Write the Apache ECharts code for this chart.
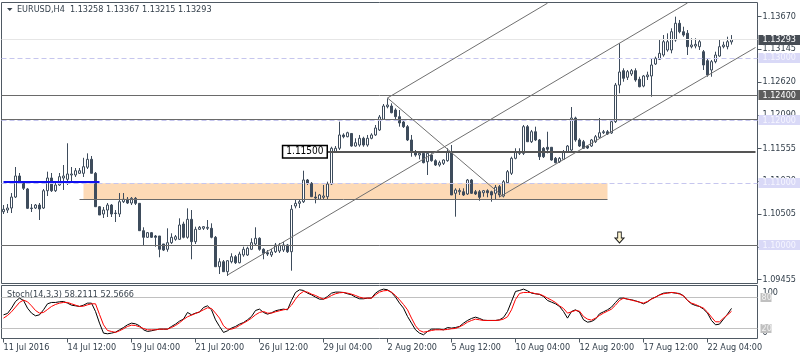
<!DOCTYPE html>
<html><head><meta charset="utf-8">
<script src="https://cdn.jsdelivr.net/npm/echarts/dist/echarts.min.js"></script>
<style>html,body{margin:0;padding:0;background:#fff}#c{width:800px;height:360px}</style>
</head><body><div id="c"></div>
<script>
// ---- data (EURUSD H4) ----
// [open, close, low, high]
const ohlc = [
[1.10538,1.10576,1.10501,1.10645],[1.10565,1.10597,1.10517,1.10661],[1.10597,1.10773,1.10517,1.10837],[1.10773,1.11110,1.10757,1.11254],
[1.11110,1.11014,1.10982,1.11158],[1.11002,1.10913,1.10886,1.11030],[1.10902,1.10592,1.10581,1.10918],[1.10597,1.10589,1.10533,1.10661],
[1.10597,1.10645,1.10581,1.10661],[1.10645,1.10581,1.10405,1.10677],[1.10597,1.10874,1.10581,1.10902],[1.10874,1.11078,1.10789,1.11179],
[1.11078,1.10874,1.10854,1.11158],[1.10874,1.10966,1.10854,1.10998],[1.10966,1.11099,1.10950,1.11158],[1.11078,1.11110,1.10886,1.11286],
[1.11057,1.11142,1.10966,1.11634],[1.11126,1.11142,1.10998,1.11254],[1.11126,1.11195,1.11094,1.11238],[1.11153,1.11195,1.11142,1.11238],
[1.11153,1.11259,1.11094,1.11401],[1.11250,1.11377,1.11222,1.11473],[1.11377,1.11153,1.11153,1.11430],[1.11153,1.10618,1.10613,1.11174],
[1.10618,1.10485,1.10485,1.10629],[1.10501,1.10565,1.10437,1.10613],[1.10565,1.10645,1.10453,1.10677],[1.10645,1.10501,1.10453,1.10661],
[1.10517,1.10509,1.10373,1.10565],[1.10501,1.10698,1.10453,1.10837],[1.10698,1.10737,1.10677,1.10837],[1.10737,1.10677,1.10661,1.10773],
[1.10677,1.10753,1.10645,1.10773],[1.10753,1.10672,1.10645,1.10773],[1.10672,1.10234,1.10229,1.10677],[1.10234,1.10128,1.09989,1.10288],
[1.10128,1.10202,1.10117,1.10213],[1.10202,1.10128,1.10117,1.10213],[1.10149,1.10128,1.09977,1.10165],[1.10149,1.09936,1.09808,1.10149],
[1.10021,1.09924,1.09908,1.10021],[1.09936,1.10042,1.09897,1.10272],[1.10042,1.10128,1.10021,1.10192],[1.10096,1.10138,1.10073,1.10165],
[1.10096,1.10325,1.10085,1.10432],[1.10341,1.10128,1.10112,1.10378],[1.10128,1.10416,1.10106,1.10592],[1.10416,1.10058,1.09776,1.10565],
[1.10058,1.10256,1.10021,1.10298],[1.10256,1.10288,1.10245,1.10309],[1.10272,1.10298,1.10245,1.10309],[1.10272,1.10288,1.10245,1.10405],
[1.10272,1.10128,1.10112,1.10352],[1.10128,1.09657,1.09652,1.10149],[1.09657,1.09737,1.09540,1.09792],[1.09737,1.09577,1.09572,1.09764],
[1.09577,1.09753,1.09508,1.09764],[1.09737,1.09817,1.09711,1.09872],[1.09817,1.09721,1.09700,1.09845],[1.09721,1.09860,1.09711,1.09897],
[1.09845,1.09936,1.09817,1.09977],[1.09845,1.09952,1.09829,1.09977],[1.09936,1.10042,1.09924,1.10112],[1.10021,1.10112,1.09989,1.10288],
[1.10112,1.09936,1.09913,1.10128],[1.09936,1.09872,1.09776,1.09952],[1.09881,1.09860,1.09829,1.09924],[1.09845,1.09893,1.09813,1.09940],
[1.09897,1.10005,1.09877,1.10037],[1.09908,1.09997,1.09877,1.10037],[1.09924,1.10005,1.09893,1.10053],[1.10005,1.09897,1.09877,1.10021],
[1.09897,1.10577,1.09593,1.10645],[1.10629,1.10672,1.10592,1.10737],[1.10672,1.10698,1.10597,1.10725],[1.10698,1.11046,1.10677,1.11195],
[1.11046,1.10993,1.10966,1.11062],[1.10993,1.10778,1.10773,1.11014],[1.10773,1.10757,1.10672,1.10858],[1.10737,1.10806,1.10725,1.10822],
[1.10769,1.10790,1.10741,1.10966],[1.10778,1.10982,1.10737,1.11019],[1.10982,1.11554,1.10966,1.11579],[1.11499,1.11554,1.11478,1.11590],
[1.11554,1.11767,1.11526,1.11980],[1.11767,1.11739,1.11714,1.11794],[1.11739,1.11803,1.11730,1.11819],[1.11791,1.11590,1.11579,1.11794],
[1.11590,1.11643,1.11579,1.11714],[1.11606,1.11714,1.11579,1.11767],[1.11714,1.11606,1.11579,1.11739],[1.11606,1.11714,1.11579,1.11767],
[1.11714,1.11767,1.11698,1.11794],[1.11767,1.11879,1.11751,1.11927],[1.11847,1.12055,1.11831,1.12087],[1.12018,1.12231,1.12007,1.12263],
[1.12220,1.12247,1.12194,1.12354],[1.12231,1.12124,1.12114,1.12274],[1.12167,1.12060,1.12007,1.12194],[1.12060,1.11959,1.11900,1.12167],
[1.11975,1.11900,1.11879,1.12018],[1.11900,1.11687,1.11670,1.11927],[1.11687,1.11499,1.11419,1.11767],[1.11499,1.11446,1.11419,1.11526],
[1.11446,1.11473,1.11377,1.11499],[1.11473,1.11323,1.11313,1.11499],[1.11339,1.11473,1.11126,1.11499],[1.11446,1.11355,1.11339,1.11473],
[1.11355,1.11286,1.11270,1.11377],[1.11286,1.11323,1.11259,1.11355],[1.11313,1.11366,1.11286,1.11377],[1.11355,1.11499,1.11339,1.11554],
[1.11499,1.10806,1.10806,1.11606],[1.10833,1.10886,1.10458,1.10913],[1.10858,1.10878,1.10806,1.10913],[1.10858,1.10806,1.10790,1.10913],
[1.10822,1.11046,1.10806,1.11062],[1.11046,1.10833,1.10822,1.11062],[1.10858,1.10822,1.10806,1.10886],[1.10858,1.10769,1.10714,1.10886],
[1.10842,1.10874,1.10778,1.10886],[1.10874,1.10842,1.10769,1.10897],[1.10858,1.10806,1.10698,1.10874],[1.10833,1.10929,1.10737,1.10966],
[1.10939,1.10806,1.10769,1.10966],[1.10790,1.11019,1.10769,1.11046],[1.11003,1.11179,1.10982,1.11206],[1.11153,1.11393,1.11126,1.11419],
[1.11393,1.11499,1.11377,1.11554],[1.11473,1.11499,1.11446,1.11554],[1.11473,1.11900,1.11446,1.11927],[1.11900,1.11659,1.11655,1.11927],
[1.11659,1.11819,1.11638,1.11847],[1.11819,1.11687,1.11670,1.11900],[1.11687,1.11419,1.11366,1.11703],[1.11554,1.11419,1.11398,1.11574],
[1.11570,1.11538,1.11473,1.11819],[1.11570,1.11366,1.11355,1.11574],[1.11393,1.11323,1.11313,1.11414],[1.11339,1.11393,1.11318,1.11414],
[1.11377,1.11499,1.11366,1.11526],[1.11499,1.11590,1.11478,1.11606],[1.11526,1.12039,1.11499,1.12215],[1.12039,1.11687,1.11659,1.12060],
[1.11687,1.11590,1.11574,1.11714],[1.11659,1.11554,1.11542,1.11687],[1.11590,1.11558,1.11542,1.11606],[1.11590,1.11687,1.11574,1.11703],
[1.11659,1.11739,1.11638,1.11767],[1.11730,1.11803,1.11714,1.12039],[1.11803,1.11819,1.11783,1.11847],[1.11819,1.11783,1.11767,1.11847],
[1.11799,1.11980,1.11783,1.12007],[1.11980,1.12567,1.11959,1.12600],[1.12567,1.12776,1.12435,1.13235],[1.12797,1.12675,1.12620,1.12835],
[1.12691,1.12781,1.12648,1.12808],[1.12744,1.12797,1.12712,1.12824],[1.12797,1.12648,1.12620,1.12835],[1.12659,1.12540,1.12531,1.12700],
[1.12551,1.12712,1.12531,1.12728],[1.12700,1.12728,1.12648,1.12781],[1.12712,1.12888,1.12380,1.13000],[1.12904,1.12995,1.12888,1.13021],
[1.12979,1.13075,1.12968,1.13288],[1.13048,1.13261,1.13021,1.13368],[1.13128,1.13261,1.13101,1.13395],[1.13128,1.13421,1.13075,1.13476],
[1.13288,1.13556,1.13261,1.13662],[1.13556,1.13421,1.13396,1.13609],[1.13421,1.13368,1.13341,1.13501],[1.13396,1.13181,1.13048,1.13448],
[1.13181,1.13208,1.13155,1.13316],[1.13192,1.13219,1.13155,1.13316],[1.13181,1.13261,1.13128,1.13288],[1.13101,1.12888,1.12808,1.13128],
[1.12957,1.12728,1.12700,1.12995],[1.12808,1.12941,1.12700,1.12968],[1.12941,1.13048,1.12915,1.13101],[1.13032,1.13181,1.13021,1.13288],
[1.13181,1.13208,1.13155,1.13261],[1.13181,1.13261,1.13139,1.13341],[1.13258,1.13293,1.13215,1.13367]
];
const stochK = [
45.8,48.4,58.7,71.6,78.1,73.6,58.7,49.1,43.9,45.8,55.5,67.1,69.7,69.7,71,71.6,68.4,64.5,63.2,62,
64.5,68.4,68.4,52.3,29.7,10.4,9.1,10.4,12.3,16.8,21.3,26.5,29.7,28.4,24.6,16.8,13.6,14.9,16.8,18.1,
18.1,18.1,23.3,27.8,33.6,37.5,50.4,45.8,49.1,51,60,63.2,55.5,36.2,23.3,11.7,14.9,20.1,23.3,27.8,
30.9,36.2,42.6,54.2,56.8,50.4,47.1,49.7,53.6,55.5,56.8,55.5,73.6,89,94.2,92.9,87.7,84.5,80,76.1,
76.1,81.3,87.7,89.7,89.7,89,86.5,84.5,80,76.8,76.8,78.1,78.1,87.7,92.9,95.5,94.2,89,80,68.4,
58.7,42.6,29.7,16.8,10.4,7.2,13.6,18.1,18.1,18.1,16.8,21.3,20.1,21.3,23.3,29.7,34.9,38.8,41.3,38.8,
35.5,34.9,34.9,34.9,36.2,40.7,52.3,71.6,91,92.9,95.5,92.2,87.7,86.5,85.2,81.3,73.6,70.3,67.1,62,
52.3,39.4,52.3,55.5,51,36.2,31.6,32.9,37.5,47.8,51.6,55.5,60.7,69.7,78.1,78.1,76.1,74.9,72.9,70.3,
67.1,70.9,76.8,80,84.5,87.7,88.4,89,87.7,87.1,82.6,73.6,67.1,63.8,62,56.8,49.1,34.9,26.5,27.8,
37.5,47.1,58.2111
];
const stochD = [
39.4,44.5,51.6,60.7,69.7,74.2,71,63.2,54.2,49.1,50.4,56.1,62,65.8,68.4,69.7,69.7,67.1,64.5,62,
62.5,65.1,67.1,67.1,46.5,26.5,15.5,13.6,11.7,14.9,18.8,23.3,25.8,25.2,22.6,19.4,16.8,16.8,16.8,18.1,
18.1,18.1,21.3,25.2,30.4,36.8,42,45.2,48.4,51.6,55.5,59.4,58.1,49.1,39.4,24.6,18.1,18.1,20.7,25.2,
29.7,34.2,39.4,45.8,50.4,52.3,49.1,49.1,51.6,53.6,55.5,56.8,64.5,76.1,85.8,90.9,89.7,85.8,83.2,79.4,
76.1,78.7,83.2,86.5,88.4,89,87.7,85.8,83.2,80,78.1,78.1,78.1,84.5,89.7,92.2,92.9,89.7,83.2,74.9,
65.8,55.5,39.4,24.6,15.5,12.3,13.6,15.5,16.8,16.8,16.8,17.5,18.8,19.4,22.6,26.5,31.6,34.9,37.5,36.2,
34.9,34.9,34.9,34.9,35.5,37.5,42,55.5,75.5,87.1,89,89,89,86.5,85.8,82.6,78.1,74.2,69.7,63.2,
58.1,49.1,51.6,54.2,52.9,42.6,37.5,35.5,39.4,44.5,49.1,52.9,56.8,64.5,73.6,78.1,76.1,74.2,72.3,70.3,
68.4,71.6,76.1,80,83.9,86.5,87.7,89,88.4,85.8,82.6,73.6,68.4,65.8,62,58.7,51,41.3,32.3,32.3,
39.4,45.8,52.5666
];
const dateTicks = ['11 Jul 2016','14 Jul 12:00','19 Jul 04:00','21 Jul 20:00','26 Jul 12:00','29 Jul 04:00',
  '2 Aug 20:00','5 Aug 12:00','10 Aug 04:00','12 Aug 20:00','17 Aug 12:00','22 Aug 04:00'];
const priceTicks = [1.13670,1.13145,1.12620,1.12090,1.11555,1.11030,1.10505,1.09980,1.09455];
const priceBoxes = [[1.13000,'lav'],[1.12000,'lav'],[1.11000,'lav'],[1.10000,'lav'],[1.12400,'gray'],[1.13293,'dark']];
const stochTicks = [[100,'100','top'],[0,'0','bottom']];
const stochBoxes = [80,20];
const stochLevels = [80,20];
const lavenderLevels = [1.13000,1.12000,1.11000,1.10000];
const solidLevels = [1.12400,1.12020,1.10000];
const bidLevel = 1.13293;
const labelledLevel = {price:1.11500, from:81, to:188};
const blueLevel = {price:1.11010, from:0, to:24};
const zoneBox = {from:20, to:151, top:1.10993, bottom:1.10737, edgeFrom:19};
const trendLines = [
  [[56,1.09524],[171,1.13881]],
  [[96,1.12360],[136,1.13878]],
  [[96,1.12360],[125,1.10774]],
  [[124,1.10774],[188,1.13168]]
];
const arrowMark = [154,1.10125];
const titleText = 'EURUSD,H4  1.13258 1.13367 1.13215 1.13293';
const stochTitle = 'Stoch(14,3,3) 58.2111 52.5666';

// ---- chart ----
const N = 189;
const cats = Array.from({length:N}, (_, i) => String(i));
const FONT = '"DejaVu Sans Condensed","DejaVu Sans",sans-serif';
const AX = '#4f5963', INK = '#34404c', CANDLE = '#3e4c5c';

const chart = echarts.init(document.getElementById('c'), null, {renderer:'canvas'});

const mlData = [];
mlData.push({yAxis: bidLevel, lineStyle:{color:'#e6e6e6', width:1, type:'solid'}});
lavenderLevels.forEach(v => mlData.push({yAxis:v, lineStyle:{color:'#c6c6ee', width:1, type:[5,3]}}));
solidLevels.forEach(v => mlData.push({yAxis:v, lineStyle:{color:'#6a6a6a', width:1, type:'solid'}}));
mlData.push([{coord:[zoneBox.edgeFrom, zoneBox.bottom], lineStyle:{color:'#6a6a6a', width:1, type:'solid'}},{coord:[zoneBox.to, zoneBox.bottom]}]);
mlData.push([{coord:[blueLevel.from, blueLevel.price], lineStyle:{color:'#1010f0', width:2, type:'solid'}},{coord:[blueLevel.to, blueLevel.price]}]);
mlData.push([{coord:[labelledLevel.from, labelledLevel.price], lineStyle:{color:'#555', width:2, type:'solid'},
  label:{show:true, position:'start', formatter:labelledLevel.price.toFixed(5), distance:1, color:'#000',
    backgroundColor:'#fff', borderColor:'#000', borderWidth:1.5, padding:[1,3,0,3], lineHeight:10,
    fontSize:10, fontFamily:FONT}},{coord:[labelledLevel.to, labelledLevel.price]}]);
trendLines.forEach(t => mlData.push([{coord:t[0], lineStyle:{color:'#707070', width:1, type:'solid'}},{coord:t[1]}]));

function boxStyle(kind){
  if (kind==='dark') return {bg:'#474d55', fg:'#ffffff'};
  if (kind==='gray') return {bg:'#5c5c5c', fg:'#ffffff'};
  return {bg:'#d9d9f7', fg:'#f6f6ff'};
}

const option = {
  animation:false,
  backgroundColor:'#fff',
  title:[
    {text:titleText, left:17, top:5, padding:0, textStyle:{fontSize:9, fontWeight:'normal', color:INK, fontFamily:FONT}},
    {text:stochTitle, left:7, top:290, padding:0, textStyle:{fontSize:9, fontWeight:'normal', color:'#3c4650', fontFamily:FONT}}
  ],
  graphic:[{type:'polygon', shape:{points:[[7,8],[12.5,8],[9.75,11]]}, style:{fill:'#3a4550'}}],
  grid:[
    {left:1.5, top:2.5, width:756, height:281, show:true, borderColor:AX, borderWidth:1, backgroundColor:'#fff'},
    {left:1.5, top:285.5, width:756, height:53, show:true, borderColor:AX, borderWidth:1, backgroundColor:'#fff'}
  ],
  xAxis:[
    {type:'category', gridIndex:0, data:cats, boundaryGap:true, show:false},
    {type:'category', gridIndex:1, data:cats, boundaryGap:true,
      axisLine:{show:false},
      axisTick:{show:true, interval:15, alignWithLabel:true, length:4, lineStyle:{color:AX}},
      axisLabel:{show:true, interval:15, formatter:(v,i)=>dateTicks[i/16]||'', align:'left', margin:5,
        fontSize:9, fontFamily:FONT, color:INK},
      splitLine:{show:false}}
  ],
  yAxis:[
    {type:'value', gridIndex:0, min:1.09388, max:1.13889, show:false},
    {type:'value', gridIndex:1, min:0, max:102.5, show:false}
  ],
  series:[
    {type:'candlestick', xAxisIndex:0, yAxisIndex:0, data:ohlc, barWidth:2, z:2,
      itemStyle:{color:'#ffffff', color0:CANDLE, borderColor:CANDLE, borderColor0:CANDLE, borderWidth:1},
      markArea:{silent:true, itemStyle:{color:'#fddab6'},
        data:[[{coord:[zoneBox.from, zoneBox.top]},{coord:[zoneBox.to, zoneBox.bottom]}]]},
      markLine:{silent:true, precision:6, symbol:['none','none'], label:{show:false}, data:mlData},
      markPoint:{silent:true, label:{show:false},
        data:[{coord:arrowMark, symbol:'path://M3,0 L7,0 L7,6 L10,6 L5,11 L0,6 L3,6 Z', symbolSize:[9,11],
          itemStyle:{color:'#fff6d0', borderColor:'#222', borderWidth:1}}]}
    },
    {type:'custom', xAxisIndex:0, yAxisIndex:0, clip:false, silent:true, z:10,
      data: priceTicks.map(v=>[0,v]),
      renderItem:(p, api)=>{
        const v = api.value(1);
        const y = api.coord([0, v])[1];
        const xr = p.coordSys.x + p.coordSys.width;
        const yy = Math.round(y)+0.5;
        return {type:'group', children:[
          {type:'line', shape:{x1:xr, y1:yy, x2:xr+4, y2:yy}, style:{stroke:AX, lineWidth:1}},
          {type:'text', style:{x:xr+5, y:y, text:v.toFixed(5), fill:INK, font:'9px '+FONT, align:'left', verticalAlign:'middle'}}
        ]};
      }},
    {type:'custom', xAxisIndex:0, yAxisIndex:0, clip:false, silent:true, z:11,
      data: priceBoxes.map(b=>[0,b[0]]),
      renderItem:(p, api)=>{
        const v = api.value(1);
        const y = api.coord([0, v])[1];
        const xr = p.coordSys.x + p.coordSys.width;
        const s = boxStyle(priceBoxes[p.dataIndex][1]);
        return {type:'group', children:[
          {type:'rect', shape:{x:xr+1, y:Math.round(y)-5, width:800-xr-1, height:10}, style:{fill:s.bg}},
          {type:'text', style:{x:xr+5, y:y, text:v.toFixed(5), fill:s.fg, font:'9px '+FONT, align:'left', verticalAlign:'middle'}}
        ]};
      }},
    {type:'line', xAxisIndex:1, yAxisIndex:1, data:stochK, showSymbol:false, symbol:'none', z:3,
      lineStyle:{color:'#000', width:1}, itemStyle:{color:'#000'},
      markLine:{silent:true, z:1, precision:2, symbol:['none','none'], label:{show:false},
        lineStyle:{color:'#c0c0c0', type:'solid', width:1}, data:stochLevels.map(v=>({yAxis:v}))}},
    {type:'line', xAxisIndex:1, yAxisIndex:1, data:stochD, showSymbol:false, symbol:'none', z:4,
      lineStyle:{color:'#ff0000', width:1}, itemStyle:{color:'#ff0000'}},
    {type:'custom', xAxisIndex:1, yAxisIndex:1, clip:false, silent:true, z:10,
      data: stochTicks.map(t=>[0,t[0]]),
      renderItem:(p, api)=>{
        const t = stochTicks[p.dataIndex];
        const y = api.coord([0, t[0]])[1];
        const xr = p.coordSys.x + p.coordSys.width;
        return {type:'text', style:{x:xr+5, y:t[2]==='top'? y+1 : y-1, text:t[1], fill:INK, font:'9px '+FONT, align:'left', verticalAlign:t[2]}};
      }},
    {type:'custom', xAxisIndex:1, yAxisIndex:1, clip:false, silent:true, z:11,
      data: stochBoxes.map(v=>[0,v]),
      renderItem:(p, api)=>{
        const v = api.value(1);
        const y = api.coord([0, v])[1];
        const xr = p.coordSys.x + p.coordSys.width;
        return {type:'group', children:[
          {type:'rect', shape:{x:xr+3, y:Math.round(y)-4, width:11, height:9}, style:{fill:'#c0c0c0'}},
          {type:'text', style:{x:xr+4, y:y+0.5, text:String(v), fill:'#f2f2f2', font:'9px '+FONT, align:'left', verticalAlign:'middle'}}
        ]};
      }}
  ]
};
chart.setOption(option);
</script></body></html>
